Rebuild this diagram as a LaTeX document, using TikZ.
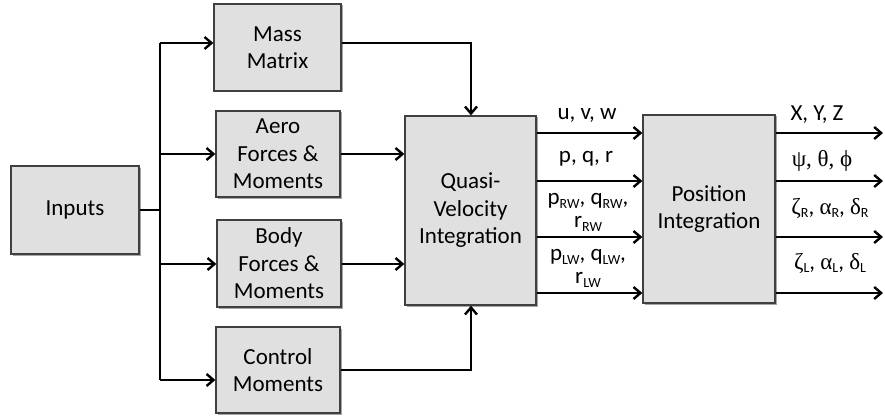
\documentclass[tikz,border=0pt]{standalone}
\usepackage{fontspec}
\setmainfont{Carlito}
\newfontfamily\grk{Liberation Serif}
\usetikzlibrary{arrows.meta,shadows}
\newcommand\sbs[1]{\raisebox{-0.35ex}{\fontsize{14pt}{14pt}\selectfont #1}}
\begin{document}
\begin{tikzpicture}[x=1pt,y=-1pt,
  blk/.style={draw=black!75, line width=1.3pt, fill=black!12, align=center,
    inner sep=0pt, font=\fontsize{23pt}{27.5pt}\selectfont,
    drop shadow={shadow xshift=1.5pt, shadow yshift=-1.5pt, opacity=0.35, fill=black}},
  conn/.style={line width=2.4pt, line join=miter},
  arr/.style={conn, -{Straight Barb[length=7pt,width=12pt,line width=2.4pt]}},
  lab/.style={font=\fontsize{23pt}{27pt}\selectfont, align=center, inner sep=0pt}]
\useasboundingbox (0,0) rectangle (885,417);
\fill[white] (0,0) rectangle (885,417);
% blocks
\node[blk, minimum width=128pt, minimum height=88pt] (inputs) at (75,210) {Inputs};
\node[blk, minimum width=127pt, minimum height=87pt] (mass) at (277.5,47.5) {Mass\\Matrix};
\node[blk, minimum width=124pt, minimum height=86pt] (aero) at (278,154) {Aero\\Forces \&\\Moments};
\node[blk, minimum width=124pt, minimum height=87pt] (body) at (279,263.5) {Body\\Forces \&\\Moments};
\node[blk, minimum width=124pt, minimum height=86pt] (ctrl) at (278,370) {Control\\Moments};
\node[blk, minimum width=131pt, minimum height=189pt] (quasi) at (470.5,210.5) {Quasi-\\Velocity\\Integration};
\node[blk, minimum width=132pt, minimum height=188pt] (pos) at (709,209) {Position\\Integration};
% trunk coordinates
\coordinate (tr) at (160,210);
\coordinate (tt) at (160,43);
\coordinate (tb) at (160,380);
\coordinate (ta) at (160,154);
\coordinate (tbd) at (160,264);
\draw[conn] (inputs.east |- tr) -- (tr);
\draw[conn] (tt) -- (tb);
\draw[arr] (tt) -- (tt -| mass.west);
\draw[arr] (ta) -- (ta -| aero.west);
\draw[arr] (tbd) -- (tbd -| body.west);
\draw[arr] (tb) -- (tb -| ctrl.west);
% into quasi
\coordinate (mt) at (471,43);
\coordinate (cb) at (471,370);
\draw[arr] (mass.east |- mt) -- (mt) -- (mt |- quasi.north);
\draw[arr] (ctrl.east |- cb) -- (cb) -- (cb |- quasi.south);
\draw[arr] (aero.east) -- (aero.east -| quasi.west);
\draw[arr] (body.east |- tbd) -- (tbd -| quasi.west);
% quasi -> position
\foreach \y/\n in {133/a,181/b,237/c,293/d}{
  \coordinate (q\n) at (537,\y);
  \draw[arr] (quasi.east |- q\n) -- (q\n -| pos.west);
  \coordinate (o\n) at (883,\y);
  \draw[arr] (pos.east |- o\n) -- (o\n);
}
% labels between
\node[lab] (l1) at (587,115) {u, v, w};
\node[lab] (l2) at (586,159) {p, q, r};
\node[lab] (l3) at (588,201) {p\sbs{RW}, q\sbs{RW},};
\node[lab] (l4) at (588,224) {r\sbs{RW}};
\node[lab] (l5) at (588,257) {p\sbs{LW}, q\sbs{LW},};
\node[lab] (l6) at (588,280) {r\sbs{LW}};
% output labels
\node[lab] (o1) at (817,115) {X, Y, Z};
\node[lab] (o2) at (822,161) {\grk ψ, θ, ϕ};
\node[lab] (o3) at (830,208) {{\grk ζ}\sbs{R}, {\grk α}\sbs{R}, {\grk δ}\sbs{R}};
\node[lab] (o4) at (830,263) {{\grk ζ}\sbs{L}, {\grk α}\sbs{L}, {\grk δ}\sbs{L}};
\end{tikzpicture}
\end{document}
